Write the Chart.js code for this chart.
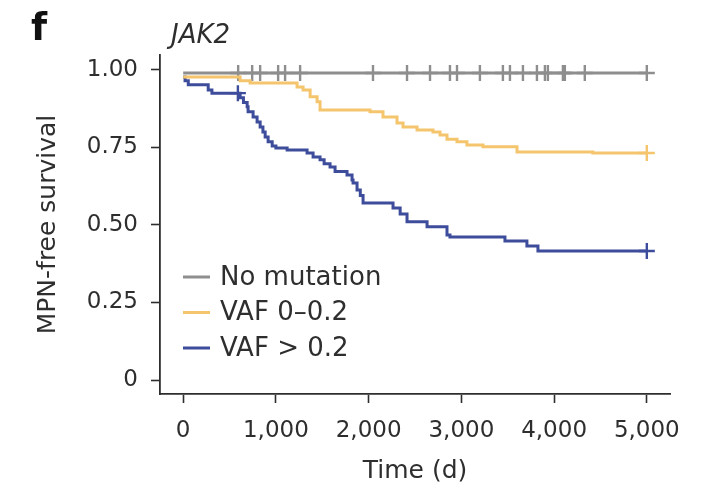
<!DOCTYPE html>
<html>
<head>
<meta charset="utf-8">
<script src="https://cdn.jsdelivr.net/npm/chart.js@4.4.0/dist/chart.umd.min.js"></script>
<style>
  html, body { margin: 0; padding: 0; background: #fff; }
  #wrap { width: 710px; height: 491px; }
</style>
</head>
<body>
<div id="wrap"><canvas id="kmChart" width="710" height="491"></canvas></div>
<script>
// series labels
const seriesNames = ['No mutation', 'VAF 0\u20130.2', 'VAF > 0.2'];

// Kaplan-Meier steps (time in days, survival)
const noMutTime = [0, 5000];
const noMutSurv = [0.99, 0.99];
const noMutCensor = [593, 744, 830, 1024, 1099, 1261, 2047, 2414, 2662, 2877, 2953, 3200,
  3448, 3524, 3664, 3815, 3901, 3933, 4095, 4116, 4331, 5000];

const lowTime = [0, 614, 722, 1228, 1293, 1369, 1444, 1476, 2015, 2155, 2306, 2371, 2522,
  2694, 2770, 2845, 2953, 3060, 3233, 3600, 4418, 5000];
const lowSurv = [0.977, 0.965, 0.958, 0.945, 0.935, 0.913, 0.897, 0.871, 0.865, 0.848, 0.829,
  0.816, 0.806, 0.8, 0.79, 0.776, 0.768, 0.758, 0.752, 0.735, 0.732, 0.732];
const lowCensor = [5000];

const highTime = [0, 20, 55, 270, 310, 614, 650, 690, 700, 754, 797, 830, 860, 884, 916, 960,
  1000, 1121, 1336, 1401, 1476, 1520, 1584, 1638, 1767, 1821, 1832, 1875, 1910, 1940, 2263,
  2340, 2414, 2630, 2845, 2877, 3470, 3707, 3826, 5000];
const highSurv = [0.977, 0.965, 0.952, 0.935, 0.925, 0.91, 0.895, 0.881, 0.865, 0.848, 0.832,
  0.816, 0.8, 0.784, 0.768, 0.755, 0.748, 0.742, 0.732, 0.719, 0.71, 0.697, 0.687, 0.672,
  0.661, 0.645, 0.635, 0.613, 0.595, 0.571, 0.555, 0.535, 0.51, 0.494, 0.468, 0.461, 0.448,
  0.432, 0.416, 0.416];
const highCensor = [590, 5000];

// axis ticks
const xTicks = [0, 1000, 2000, 3000, 4000, 5000];
const xTickLabels = ['0', '1,000', '2,000', '3,000', '4,000', '5,000'];
const yTicks = [0, 0.25, 0.5, 0.75, 1];
const yTickLabels = ['0', '0.25', '0.50', '0.75', '1.00'];

const colors = ['#8e8e8e', '#f4c56c', '#3e4c9c'];
const textColor = '#2e2e2e';
const fontFamily = '"DejaVu Sans", sans-serif';

function pts(times, surv) {
  return times.map((t, i) => ({ x: t, y: surv[i] }));
}
// censor marks sit on the curve value at that time
function censorPts(censor, times, surv) {
  return censor.map(t => {
    let v = surv[0];
    for (let i = 0; i < times.length; i++) { if (times[i] <= t) v = surv[i]; }
    return { x: t, y: v };
  });
}

function stepLine(label, data, color) {
  return {
    label: label, data: data, borderColor: color, backgroundColor: color,
    borderWidth: 3, stepped: true, pointRadius: 0, fill: false
  };
}
function marks(data, color) {
  return {
    label: '', data: data, showLine: false, borderColor: color, backgroundColor: color,
    pointStyle: 'cross', pointRadius: 8, pointBorderWidth: 2.4
  };
}

// panel letter, gene title and legend
const extras = {
  id: 'extras',
  afterDraw(chart) {
    const ctx = chart.ctx;
    ctx.save();
    ctx.fillStyle = '#111';
    ctx.textBaseline = 'alphabetic';
    ctx.textAlign = 'left';
    ctx.font = 'bold 37px ' + fontFamily;
    ctx.fillText('f', 31, 40);
    ctx.fillStyle = textColor;
    ctx.font = 'italic 26px ' + fontFamily;
    ctx.fillText('JAK2', 171, 43);

    ctx.font = '26px ' + fontFamily;
    ctx.textBaseline = 'middle';
    for (let i = 0; i < 3; i++) {
      const ds = chart.data.datasets[i];
      const y = 277 + i * 35.5;
      ctx.strokeStyle = ds.borderColor;
      ctx.lineWidth = 3;
      ctx.beginPath();
      ctx.moveTo(183, y);
      ctx.lineTo(210, y);
      ctx.stroke();
      ctx.fillStyle = textColor;
      ctx.fillText(ds.label, 220, y + 1);
    }
    ctx.restore();
  }
};

const ctx = document.getElementById('kmChart').getContext('2d');
const kmChart = new Chart(ctx, {
  type: 'line',
  data: {
    datasets: [
      stepLine(seriesNames[0], pts(noMutTime, noMutSurv), colors[0]),
      stepLine(seriesNames[1], pts(lowTime, lowSurv), colors[1]),
      stepLine(seriesNames[2], pts(highTime, highSurv), colors[2]),
      marks(censorPts(noMutCensor, noMutTime, noMutSurv), colors[0]),
      marks(censorPts(lowCensor, lowTime, lowSurv), colors[1]),
      marks(censorPts(highCensor, highTime, highSurv), colors[2])
    ]
  },
  options: {
    responsive: false,
    animation: false,
    devicePixelRatio: 1,
    layout: { padding: { left: 0, top: 55, right: 40, bottom: 0 } },
    plugins: { legend: { display: false }, tooltip: { enabled: false } },
    scales: {
      x: {
        type: 'linear', min: -250, max: 5250,
        afterBuildTicks: (s) => { s.ticks = xTicks.map(v => ({ value: v })); },
        afterFit: (s) => { s.height = 97; },
        ticks: {
          callback: (v) => xTickLabels[xTicks.indexOf(v)],
          font: { family: fontFamily, size: 23 }, color: textColor, padding: 14, maxRotation: 0
        },
        grid: { drawOnChartArea: false, drawTicks: true, tickLength: 9, tickColor: textColor, tickWidth: 1.6 },
        border: { display: true, color: textColor, width: 1.8 },
        title: {
          display: true, text: 'Time (d)', color: textColor,
          font: { family: fontFamily, size: 25 }, padding: { top: 0, bottom: 5 }
        }
      },
      y: {
        type: 'linear', min: -0.045, max: 1.048,
        afterBuildTicks: (s) => { s.ticks = yTicks.map(v => ({ value: v })); },
        afterFit: (s) => { s.width = 160; },
        ticks: {
          callback: (v) => yTickLabels[yTicks.indexOf(v)],
          font: { family: fontFamily, size: 23 }, color: textColor, padding: 13
        },
        grid: { drawOnChartArea: false, drawTicks: true, tickLength: 9, tickColor: textColor, tickWidth: 1.6 },
        border: { display: true, color: textColor, width: 1.8 },
        title: {
          display: true, text: 'MPN-free survival', color: textColor,
          font: { family: fontFamily, size: 25 }, padding: { top: 33, bottom: 0 }
        }
      }
    }
  },
  plugins: [extras]
});
</script>
</body>
</html>
